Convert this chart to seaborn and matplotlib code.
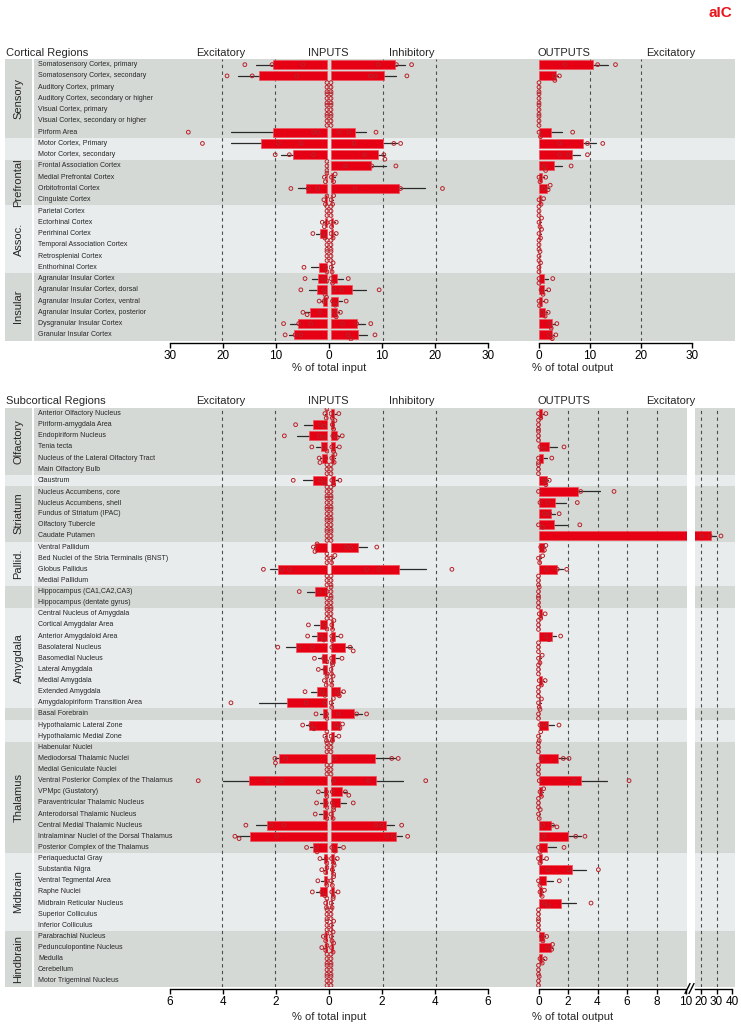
import matplotlib
matplotlib.use('Agg')
import matplotlib.pyplot as plt
import numpy as np
import pandas as pd
import seaborn as sns
from matplotlib.lines import Line2D
from matplotlib.patches import Rectangle

# ---------------- cortical regions ----------------
cort_groups = ['Sensory', '', 'Prefrontal', 'Assoc.', 'Insular']
cort_sizes = [7, 2, 4, 6, 6]
cort_labels = [
    'Somatosensory Cortex, primary', 'Somatosensory Cortex, secondary',
    'Auditory Cortex, primary', 'Auditory Cortex, secondary or higher',
    'Visual Cortex, primary', 'Visual Cortex, secondary or higher', 'Pirform Area',
    'Motor Cortex, Primary', 'Motor Cortex, secondary',
    'Frontal Association Cortex', 'Medial Prefrontal Cortex', 'Orbitofrontal Cortex',
    'Cingulate Cortex',
    'Parietal Cortex', 'Ectorhinal Cortex', 'Perirhinal Cortex',
    'Temporal Association Cortex', 'Retrosplenial Cortex', 'Enthorhinal Cortex',
    'Agranular Insular Cortex', 'Agranular Insular Cortex, dorsal',
    'Agranular Insular Cortex, ventral', 'Agranular Insular Cortex, posterior',
    'Dysgranular Insular Cortex', 'Granular Insular Cortex']

# three animals per region, % of total input / output
cort_exc = [
    [15.7, 10.5, 4.6], [19.1, 14.3, 5.8], [0, 0, 0], [0, 0, 0], [0, 0, 0], [0, 0, 0],
    [26.5, 2.6, 1.7],
    [23.8, 9.3, 5.0], [9.9, 7.2, 2.6],
    [0, 0, 0], [0.5, 0.3, 0.0], [6.9, 3.6, 1.8], [0.6, 0.3, 0.0],
    [0, 0, 0], [0.9, 0.5, 0.0], [2.7, 0.8, 0.4], [0, 0, 0], [0, 0, 0], [4.4, 0.3, 0.0],
    [4.2, 0.8, 0.0], [5.0, 0.6, 0.4], [1.5, 0.6, 0.1], [4.6, 3.8, 1.4], [8.3, 5.4, 3.1],
    [8.0, 6.1, 5.0]]
cort_inh = [
    [9.0, 12.5, 15.4], [7.5, 8.5, 14.5], [0, 0, 0], [0, 0, 0], [0, 0, 0], [0, 0, 0],
    [1.5, 3.4, 8.6],
    [4.4, 12.0, 13.3], [6.4, 10.3, 10.1],
    [2.8, 7.8, 12.4], [0.1, 0.5, 0.8], [4.6, 13.3, 21.3], [0.0, 0.3, 0.5],
    [0, 0, 0], [0.0, 0.1, 1.0], [0.0, 0.4, 1.0], [0, 0, 0], [0, 0, 0], [0.0, 0.2, 0.4],
    [0.0, 0.3, 3.3], [0.6, 2.0, 9.2], [0.3, 0.8, 2.9], [0.7, 1.0, 1.8], [2.2, 4.9, 7.6],
    [3.3, 3.8, 8.4]]
cort_out = [
    [5.1, 11.5, 15.0], [3.0, 3.1, 4.0], [0, 0, 0], [0, 0, 0], [0, 0, 0], [0, 0, 0],
    [0.0, 0.3, 6.6],
    [4.0, 9.5, 12.5], [4.0, 5.7, 9.5],
    [1.0, 1.3, 6.3], [0.0, 0.2, 1.3], [0.9, 1.8, 2.2], [0.0, 0.4, 0.9],
    [0, 0, 0], [0.0, 0.2, 0.5], [0.0, 0.3, 0.5], [0, 0, 0], [0.0, 0.0, 0.2], [0.0, 0.0, 0.3],
    [0.0, 0.0, 2.7], [0.4, 0.8, 1.9], [0.0, 0.1, 1.4], [0.6, 1.2, 1.8], [2.0, 2.4, 3.5],
    [2.0, 2.6, 3.3]]

# ---------------- subcortical regions ----------------
sub_groups = ['Olfactory', '', 'Striatum', 'Pallid.', '', 'Amygdala', '', '',
              'Thalamus', 'Midbrain', 'Hindbrain']
sub_sizes = [6, 1, 5, 4, 2, 9, 1, 2, 10, 7, 5]
sub_labels = [
    'Anterior Olfactory Nucleus', 'Piriform-amygdala Area', 'Endopiriform Nucleus',
    'Tenia tecta', 'Nucleus of the Lateral Olfactory Tract', 'Main Olfactory Bulb',
    'Claustrum',
    'Nucleus Accumbens, core', 'Nucleus Accumbens, shell', 'Fundus of Striatum (IPAC)',
    'Olfactory Tubercle', 'Caudate Putamen',
    'Ventral Pallidum', 'Bed Nuclei of the Stria Terminalis (BNST)', 'Globus Pallidus',
    'Medial Pallidum',
    'Hippocampus (CA1,CA2,CA3)', 'Hippocampus (dentate gyrus)',
    'Central Nucleus of Amygdala', 'Cortical Amygdalar Area', 'Anterior Amygdaloid Area',
    'Basolateral Nucleus', 'Basomedial Nucleus', 'Lateral Amygdala', 'Medial Amygdala',
    'Extended Amygdala', 'Amygdalopiriform Transition Area',
    'Basal Forebrain',
    'Hypothalamic Lateral Zone', 'Hypothalamic Medial Zone',
    'Habenular Nuclei', 'Mediodorsal Thalamic Nuclei', 'Medial Geniculate Nuclei',
    'Ventral Posterior Complex of the Thalamus', 'VPMpc (Gustatory)',
    'Paraventricular Thalamic Nucleus', 'Anterodorsal Thalamic Nucleus',
    'Central Medial Thalamic Nucleus', 'Intralaminar Nuclei of the Dorsal Thalamus',
    'Posterior Complex of the Thalamus',
    'Periaqueductal Gray', 'Substantia Nigra', 'Ventral Tegmental Area', 'Raphe Nuclei',
    'Midbrain Reticular Nucleus', 'Superior Colliculus', 'Inferior Colliculus',
    'Parabrachial Nucleus', 'Pedunculopontine Nucleus', 'Medulla', 'Cerebellum',
    'Motor Trigeminal Nucleus']

sub_exc = [
    [0.08, 0.03, 0.0], [1.2, 0.27, 0.1], [1.63, 0.3, 0.13], [0.58, 0.1, 0.0],
    [0.3, 0.27, 0.05], [0, 0, 0],
    [1.29, 0.25, 0.1],
    [0, 0, 0], [0, 0, 0], [0, 0, 0], [0, 0, 0], [0, 0, 0],
    [0.52, 0.46, 0.38], [0, 0, 0], [2.43, 1.73, 1.44], [0, 0, 0],
    [1.06, 0.3, 0.0], [0, 0, 0],
    [0, 0, 0], [0.71, 0.1, 0.0], [0.74, 0.23, 0.12], [1.88, 1.07, 0.56], [0.48, 0.13, 0.0],
    [0.33, 0.08, 0.0], [0.1, 0.03, 0.0], [0.84, 0.2, 0.08], [3.67, 0.8, 0.09],
    [0.42, 0.02, 0.0],
    [0.93, 0.62, 0.5], [0.08, 0.02, 0.0],
    [0, 0, 0], [1.99, 1.97, 1.58], [0, 0, 0], [4.92, 2.27, 1.73], [0.33, 0.02, 0.0],
    [0.4, 0.03, 0.0], [0.45, 0.03, 0.0], [3.1, 2.14, 1.64], [3.52, 3.36, 1.92],
    [0.78, 0.4, 0.38],
    [0.27, 0.03, 0.0], [0.2, 0.05, 0.0], [0.35, 0.0, 0.0], [0.56, 0.2, 0.08],
    [0.05, 0.02, 0.0], [0, 0, 0], [0, 0, 0],
    [0.14, 0.05, 0.0], [0.2, 0.05, 0.0], [0, 0, 0], [0, 0, 0], [0, 0, 0]]
sub_inh = [
    [0.0, 0.05, 0.3], [0.05, 0.1, 0.15], [0.07, 0.24, 0.43], [0.03, 0.1, 0.32],
    [0.03, 0.12, 0.15], [0, 0, 0],
    [0.03, 0.1, 0.34],
    [0, 0, 0], [0, 0, 0], [0, 0, 0], [0, 0, 0], [0, 0, 0],
    [0.57, 0.75, 1.75], [0.0, 0.02, 0.15], [1.36, 1.83, 4.62], [0, 0, 0],
    [0, 0, 0], [0, 0, 0],
    [0, 0, 0], [0.03, 0.06, 0.11], [0.03, 0.05, 0.38], [0.03, 0.73, 0.85], [0.02, 0.05, 0.42],
    [0.0, 0.02, 0.06], [0.0, 0.03, 0.08], [0.22, 0.32, 0.48], [0.0, 0.03, 0.09],
    [0.28, 0.98, 1.36],
    [0.2, 0.34, 0.44], [0.0, 0.05, 0.3],
    [0, 0, 0], [0.13, 2.32, 2.57], [0, 0, 0], [0.09, 1.43, 3.62], [0.05, 0.55, 0.68],
    [0.05, 0.1, 0.85], [0.0, 0.08, 0.1], [1.72, 1.94, 2.7], [2.13, 2.38, 2.93],
    [0.03, 0.15, 0.48],
    [0.02, 0.1, 0.24], [0.05, 0.1, 0.12], [0.0, 0.05, 0.1], [0.03, 0.09, 0.27],
    [0.0, 0.04, 0.08], [0, 0, 0], [0.0, 0.0, 0.1],
    [0.0, 0.04, 0.08], [0.02, 0.08, 0.1], [0, 0, 0], [0, 0, 0], [0, 0, 0]]
sub_out = [
    [0.0, 0.15, 0.5], [0, 0, 0], [0, 0, 0], [0.1, 0.4, 1.73], [0.0, 0.0, 0.9], [0, 0, 0],
    [0.4, 0.5, 0.73],
    [0.0, 2.86, 5.12], [0.1, 0.62, 2.63], [0.4, 0.75, 1.4], [0.0, 0.28, 2.8],
    [20.2, 25.8, 32.9],
    [0.15, 0.4, 0.5], [0.0, 0.08, 0.28], [0.55, 1.28, 1.91], [0, 0, 0],
    [0.0, 0.0, 0.05], [0, 0, 0],
    [0.05, 0.15, 0.45], [0, 0, 0], [0.49, 0.71, 1.5], [0, 0, 0], [0.0, 0.1, 0.25],
    [0, 0, 0], [0.05, 0.2, 0.45], [0, 0, 0], [0.0, 0.05, 0.2],
    [0.0, 0.0, 0.1],
    [0.1, 0.44, 1.39], [0.0, 0.05, 0.15],
    [0, 0, 0], [0.17, 1.68, 2.07], [0, 0, 0], [0.05, 2.41, 6.14], [0.1, 0.2, 0.35],
    [0, 0, 0], [0.0, 0.05, 0.12], [0.28, 0.95, 1.25], [0.37, 2.52, 3.15],
    [0.0, 0.1, 1.73],
    [0.0, 0.1, 0.55], [0.62, 2.07, 4.06], [0.0, 0.1, 1.41], [0.1, 0.25, 0.4],
    [0.4, 0.67, 3.56], [0, 0, 0], [0, 0, 0],
    [0.2, 0.3, 0.55], [0.6, 0.9, 0.95], [0.1, 0.25, 0.45], [0, 0, 0], [0.0, 0.0, 0.05]]

# ---------------- style ----------------
sns.set_style('white')
plt.rcParams['font.family'] = ['Liberation Sans', 'DejaVu Sans']

DARK = '#d5d9d6'
LIGHT = '#e8ecec'
BAR = '#e60013'
BAR_EDGE = '#f0505c'
DOT = '#b8232b'
ERR = '#2a2a2a'
GUIDE = '#4d4d4d'

W, H = 741, 1026
fig = plt.figure(figsize=(W / 100, H / 100), dpi=100)


def box(x0, y0, x1, y1):
    return fig.add_axes([x0 / W, 1 - y1 / H, (x1 - x0) / W, (y1 - y0) / H])


def ftext(x, y, s, **kw):
    fig.text(x / W, 1 - y / H, s, **kw)


def long_form(labels, vals):
    return pd.DataFrame({'region': np.repeat(labels, 3), 'value': np.ravel(vals)})


def style_axis(ax, n, bounds=None, ticks=None, labels=None):
    ax.set_facecolor('none')
    ax.set_xlabel('')
    ax.set_ylabel('')
    ax.set_yticks([])
    ax.set_ylim(n - 0.5, -0.5)
    for s in ['top', 'right', 'left']:
        ax.spines[s].set_visible(False)
    if bounds is None:
        ax.spines['bottom'].set_visible(False)
        ax.set_xticks([])
        return
    sp = ax.spines['bottom']
    sp.set_position(('outward', 2))
    sp.set_bounds(*bounds)
    sp.set_linewidth(1.0)
    sp.set_color('black')
    ax.set_xticks(ticks)
    ax.set_xticklabels(labels if labels is not None else [f'{t:g}' for t in ticks])
    ax.tick_params(axis='x', direction='out', length=3.5, width=1.0, pad=1.5,
                   labelsize=8.5, colors='black', bottom=True)


def draw_side(ax, labels, vals, xlim, guides):
    df = long_form(labels, vals)
    sns.barplot(data=df, x='value', y='region', order=labels, orient='h',
                errorbar='se', color=BAR, saturation=1, width=0.8,
                edgecolor=BAR_EDGE, linewidth=0.5,
                err_kws={'color': ERR, 'linewidth': 0.9, 'zorder': 2},
                zorder=3, ax=ax)
    sns.swarmplot(data=df, x='value', y='region', order=labels, orient='h',
                  size=2.7, facecolors='none', edgecolor=DOT, linewidth=0.7,
                  zorder=4, ax=ax, warn_thresh=1)
    for g in guides:
        ax.axvline(g, color=GUIDE, lw=0.8, ls=(0, (3, 3)), zorder=1)
    ax.set_xlim(*xlim)


def panel(y0, y1, labels, groups, sizes, exc, inh, spans, in_scale, in_max,
          in_guides):
    n = len(labels)
    bg = box(0, y0, W, y1)
    bg.set_xlim(0, W)
    bg.set_ylim(n - 0.5, -0.5)
    bg.axis('off')
    start = 0
    for k, (g, s) in enumerate(zip(groups, sizes)):
        c = DARK if k % 2 == 0 else LIGHT
        for a, b in [(5, 32)] + spans:
            bg.add_patch(Rectangle((a, start - 0.5), b - a, s, color=c, lw=0, zorder=0))
        if g:
            bg.text(18.5, start - 0.5 + s / 2, g, rotation=90, ha='center',
                    va='center', fontsize=8)
        start += s
    for i, lab in enumerate(labels):
        bg.text(38, i, lab, ha='left', va='center', fontsize=5)

    # excitatory inputs (left, growing leftwards from x=327 px)
    ax_e = box(160, y0, 329, y1)
    draw_side(ax_e, labels, exc, ((327 - 160) / in_scale, (327 - 329) / in_scale), in_guides)
    style_axis(ax_e, n)
    # inhibitory inputs (right, growing rightwards from x=331 px)
    ax_i = box(329, y0, 498, y1)
    draw_side(ax_i, labels, inh, ((329 - 331) / in_scale, (498 - 331) / in_scale), in_guides)
    style_axis(ax_i, n)
    # shared tick line for inputs
    ax_t = box(170, y0, 488, y1)
    ax_t.set_xlim(-in_max, in_max)
    t = np.linspace(-in_max, in_max, 7)
    style_axis(ax_t, n, bounds=(-in_max, in_max), ticks=t,
               labels=[f'{abs(v):g}' for v in t])


# ---------------- top panel ----------------
T0, T1 = 59, 340.5
panel(T0, T1, cort_labels, cort_groups, cort_sizes, cort_exc, cort_inh,
      [(34, 735)], 157 / 30, 30, [10, 20])
s_out = 153 / 30
ax_o = box(535, T0, 736, T1)
draw_side(ax_o, cort_labels, cort_out, ((535 - 539) / s_out, (736 - 539) / s_out), [10, 20])
style_axis(ax_o, len(cort_labels), bounds=(0, 30), ticks=[0, 10, 20, 30])

# ---------------- bottom panel ----------------
B0, B1 = 408, 986.5
panel(B0, B1, sub_labels, sub_groups, sub_sizes, sub_exc, sub_inh,
      [(34, 687), (695, 735)], 157 / 6, 6, [2, 4])
s1 = 147.5 / 10
ax_o1 = box(534, B0, 687, B1)
draw_side(ax_o1, sub_labels, sub_out, ((534 - 538.5) / s1, (687 - 538.5) / s1), [2, 4, 6, 8])
style_axis(ax_o1, len(sub_labels), bounds=(0, 10), ticks=[0, 2, 4, 6, 8, 10])
s2 = 31 / 20
z2 = 701 - 20 * s2
ax_o2 = box(695, B0, 736, B1)
lo2 = (695 - z2) / s2
draw_side(ax_o2, sub_labels, sub_out, (lo2, (736 - z2) / s2), [20, 30])
style_axis(ax_o2, len(sub_labels), bounds=(lo2, 40), ticks=[20, 30, 40])

# axis break marks
for bx in (687.5, 691.5):
    fig.add_artist(Line2D([(bx - 2.5) / W, (bx + 2.5) / W],
                          [1 - (B1 + 7) / H, 1 - (B1 - 3) / H],
                          transform=fig.transFigure, color='black', lw=1.0))

# ---------------- headers and labels ----------------
for y, title in [(53, 'Cortical Regions'), (401, 'Subcortical Regions')]:
    ftext(6, y, title, ha='left', va='center', fontsize=8)
    ftext(221, y, 'Excitatory', ha='center', va='center', fontsize=8)
    ftext(328, y, 'INPUTS', ha='center', va='center', fontsize=8)
    ftext(412, y, 'Inhibitory', ha='center', va='center', fontsize=8)
    ftext(564, y, 'OUTPUTS', ha='center', va='center', fontsize=8)
    ftext(671, y, 'Excitatory', ha='center', va='center', fontsize=8)

for y in (368, 1017):
    ftext(329, y, '% of total input', ha='center', va='center', fontsize=8)
    ftext(573, y, '% of total output', ha='center', va='center', fontsize=8)

ftext(720, 13, 'aIC', ha='center', va='center', fontsize=11, fontweight='bold',
      color='#e8141c')

fig.savefig('out.png', dpi=100)
